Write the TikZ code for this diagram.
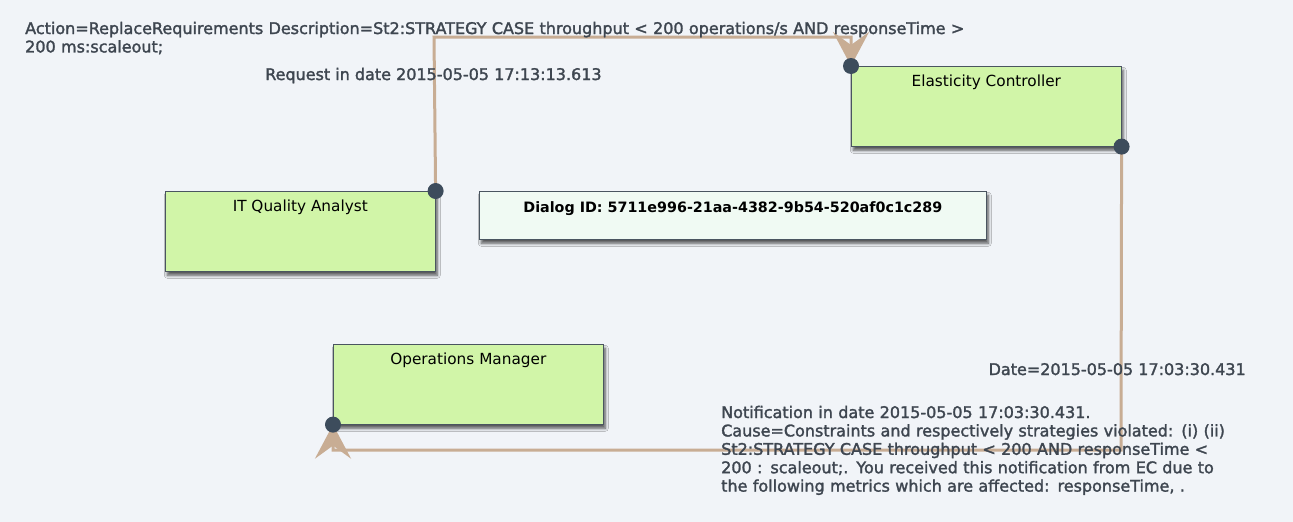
\documentclass[tikz,border=0pt]{standalone}
\usepackage{fontspec}
\setmainfont{DejaVu Sans}
\newfontfamily\notefont[FakeBold=1.8]{DejaVu Sans}
\usetikzlibrary{arrows.meta,shadows.blur,positioning}
\definecolor{canvasbg}{HTML}{F1F4F8}
\definecolor{actorgreen}{HTML}{D1F5A8}
\definecolor{dialogmint}{HTML}{F0FAF3}
\definecolor{boxline}{HTML}{4A5560}
\definecolor{flowtan}{HTML}{C8AD94}
\definecolor{portdark}{HTML}{3D4C5C}
\definecolor{notetext}{HTML}{3E4650}
\tikzset{
  actor/.style={draw=boxline, fill=actorgreen, line width=0.6pt, anchor=north west,
    minimum width=270pt, minimum height=80pt, inner sep=0pt,
    blur shadow={shadow xshift=2pt, shadow yshift=-4pt, shadow blur radius=3pt, shadow opacity=65}},
  actorlabel/.style={anchor=base, yshift=-20pt, inner sep=0pt, text=black,
    font=\fontsize{15.3}{17}\selectfont},
  note/.style={anchor=base west, inner sep=0pt, align=left, text=notetext,
    font=\notefont\fontsize{16}{18.4}\selectfont},
  flow/.style={draw=flowtan, line width=3pt,
    -{Stealth[length=34pt, width=36pt, inset=13pt, flowtan]}},
  port/.style={circle, fill=portdark, minimum size=16pt, inner sep=0pt},
}
\begin{document}
\begin{tikzpicture}[x=1pt,y=-1pt]
  \fill[canvasbg] (0,0) rectangle (1293,522);

  % actors
  \node[actor, label={[actorlabel]north:Elasticity Controller}] (ec) at (851,66) {};
  \node[actor, label={[actorlabel]north:IT Quality Analyst}] (qa) at (165,191) {};
  \node[actor, label={[actorlabel]north:Operations Manager}] (om) at (333,344) {};
  \node[actor, fill=dialogmint, minimum width=507pt, minimum height=48pt,
    label={[actorlabel, yshift=-1pt, font=\bfseries\fontsize{14.3}{16}\selectfont]north:Dialog ID: 5711e996-21aa-4382-9b54-520af0c1c289}] (dialog) at (479,191) {};

  % connectors
  \coordinate (reqbend) at (434,37);
  \coordinate (notebend) at (1121,450);
  \draw[flow] (qa.north east) -- (reqbend) -| (ec.north west);
  \draw[flow] (ec.south east) -- (notebend) -| (om.south west);

  \node[port] (qaport) at (qa.north east) {};
  \node[port] (ecinport) at (ec.north west) {};
  \node[port] (ecoutport) at (ec.south east) {};
  \node[port] (omport) at (om.south west) {};

  % messages
  \node[note, text width=1000pt] (reqtext) at (25,34)
    {Action=ReplaceRequirements Description=St2:STRATEGY CASE throughput < 200 operations/s AND responseTime >\\200 ms:scaleout;};
  \node[note] (reqdate) at (265,80) {Request in date 2015-05-05 17:13:13.613};
  \node[note, anchor=base east] (notedate) at (1246,375) {Date=2015-05-05 17:03:30.431};
  \node[note, text width=560pt] (notetext) at (721,418)
    {Notification in date 2015-05-05 17:03:30.431.\\
     Cause=Constraints and respectively strategies violated: (i) (ii)\\
     St2:STRATEGY CASE throughput < 200 AND responseTime <\\
     200 : scaleout;. You received this notification from EC due to\\
     the following metrics which are affected: responseTime, .};
\end{tikzpicture}
\end{document}
